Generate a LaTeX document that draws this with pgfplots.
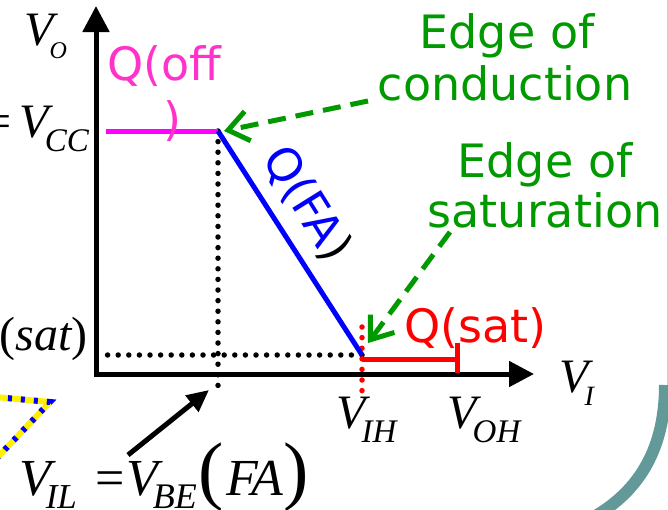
\documentclass[border=0pt]{standalone}
\usepackage{pgfplots}
\pgfplotsset{compat=1.18}
\usepackage{fontspec}
\setmainfont{DejaVu Sans}
\newfontfamily\tms{Liberation Serif}
\usetikzlibrary{arrows.meta}

\definecolor{qoff}{RGB}{255,0,255}
\definecolor{qofftxt}{RGB}{255,51,204}
\definecolor{edge}{RGB}{0,153,0}
\definecolor{slide}{RGB}{99,153,153}

\newcommand\lbl{\fontsize{46bp}{52bp}\selectfont}
\newcommand\mth{\tms\itshape\fontsize{48bp}{52bp}\selectfont}
\newcommand\sub[1]{\raisebox{-14bp}{\fontsize{33bp}{36bp}\selectfont #1}}
\newcommand\up[1]{{\upshape #1}}
\newcommand\bigp[1]{{\upshape\fontsize{76bp}{76bp}\selectfont #1}}

\begin{document}
\begin{tikzpicture}
\useasboundingbox (0,0) rectangle (668bp,510bp);
\clip (0,0) rectangle (668bp,510bp);
\begin{axis}[
  at={(0,0)}, anchor=south west,
  scale only axis, width=668bp, height=510bp,
  xmin=0, xmax=668, ymin=0, ymax=510,
  y dir=reverse,
  hide axis, clip=false,
]
% slide decoration
\draw[gray!40, line width=1bp] (axis cs:667,0) -- (axis cs:667,390);
\draw[slide, line width=12bp] (axis cs:665,385) .. controls (axis cs:665,445) and (axis cs:642,490) .. (axis cs:592,518);
\draw[yellow, line width=6bp, line join=round] (axis cs:-5,397) -- (axis cs:50,402) -- (axis cs:-5,460);
\draw[blue, line width=6bp, dash pattern=on 4bp off 9bp] (axis cs:-5,397) -- (axis cs:50,402) -- (axis cs:-5,460);

% axes
\draw[black, line width=5bp, -{Triangle[length=26bp,width=26bp]}] (axis cs:96,377) -- (axis cs:96,6);
\draw[black, line width=5bp, -{Triangle[length=25bp,width=25bp]}] (axis cs:94,374) -- (axis cs:534,374);

% guide dots
\addplot[black, line width=5.5bp, line cap=round, dash pattern=on 0pt off 10.6bp] coordinates {(218,131) (218,386)};
\addplot[black, line width=5.5bp, line cap=round, dash pattern=on 0pt off 10.6bp] coordinates {(362,355) (100,355)};
\addplot[red, line width=5.5bp, line cap=round, dash pattern=on 0pt off 10.6bp] coordinates {(362,327) (362,392)};

% transfer characteristic
\addplot[qoff, line width=5bp] coordinates {(106,131) (218,131)};
\addplot[blue, line width=5bp] coordinates {(218,131) (362,355)};
\addplot[red, line width=5bp] coordinates {(362,359) (457,359)};
\addplot[red, line width=5bp] coordinates {(457,343) (457,373)};

% region labels
\node[qofftxt, anchor=base west, inner sep=0] at (axis cs:107,80) {\lbl Q(off};
\node[qofftxt, anchor=base, inner sep=0] at (axis cs:172,135) {\lbl )};
\node[anchor=center, inner sep=0, rotate=-58] at (axis cs:307,204) {\lbl\textcolor{blue}{Q(FA}\textcolor{black}{)}};
\node[red, anchor=base west, inner sep=0] at (axis cs:404,342) {\lbl Q(sat)};

\node[edge, anchor=base, inner sep=0] at (axis cs:507,48) {\lbl Edge of};
\node[edge, anchor=base, inner sep=0] at (axis cs:505,100) {\lbl conduction};
\node[edge, anchor=base, inner sep=0] at (axis cs:545,177) {\lbl Edge of};
\node[edge, anchor=base, inner sep=0] at (axis cs:545,227) {\lbl saturation};

\draw[edge, line width=5bp, dash pattern=on 18bp off 10bp, -{Straight Barb[length=20bp,width=30bp]}] (axis cs:368,101) -- (axis cs:224,131);
\draw[edge, line width=5bp, dash pattern=on 18bp off 10bp, -{Straight Barb[length=20bp,width=30bp]}] (axis cs:450,232) -- (axis cs:368,343);

% axis labels
\node[anchor=base west, inner sep=0] at (axis cs:24,45) {\mth V\kern-0.08em\raisebox{-13bp}{\fontsize{24bp}{26bp}\selectfont O}};
\node[anchor=base east, inner sep=0] at (axis cs:89,137) {\mth \up{=}\,V\kern-0.08em\sub{CC}};
\node[anchor=base east, inner sep=0] at (axis cs:88,350) {\mth V\kern-0.08em\sub{CE}\up{(}sat\up{)}};
\node[anchor=base west, inner sep=0] at (axis cs:336,428) {\mth V\kern-0.08em\sub{IH}};
\node[anchor=base west, inner sep=0] at (axis cs:447,428) {\mth V\kern-0.08em\sub{OH}};
\node[anchor=base west, inner sep=0] at (axis cs:559,392) {\mth V\kern-0.08em\raisebox{-13bp}{\fontsize{28bp}{30bp}\selectfont I}};
\node[anchor=base west, inner sep=0] at (axis cs:19,495) {\tms\itshape\fontsize{52bp}{56bp}\selectfont V\kern-0.1em\raisebox{-13bp}{\fontsize{35bp}{38bp}\selectfont IL}\hspace{19bp}\up{=}\hspace{1bp}V\kern-0.1em\raisebox{-13bp}{\fontsize{36bp}{38bp}\selectfont BE}\hspace{2bp}\bigp{(}\hspace{2bp}FA\hspace{1bp}\bigp{)}};

\draw[black, line width=5bp, -{Triangle[length=22bp,width=20bp]}] (axis cs:128,455) -- (axis cs:209,390);
\end{axis}
\end{tikzpicture}
\end{document}
